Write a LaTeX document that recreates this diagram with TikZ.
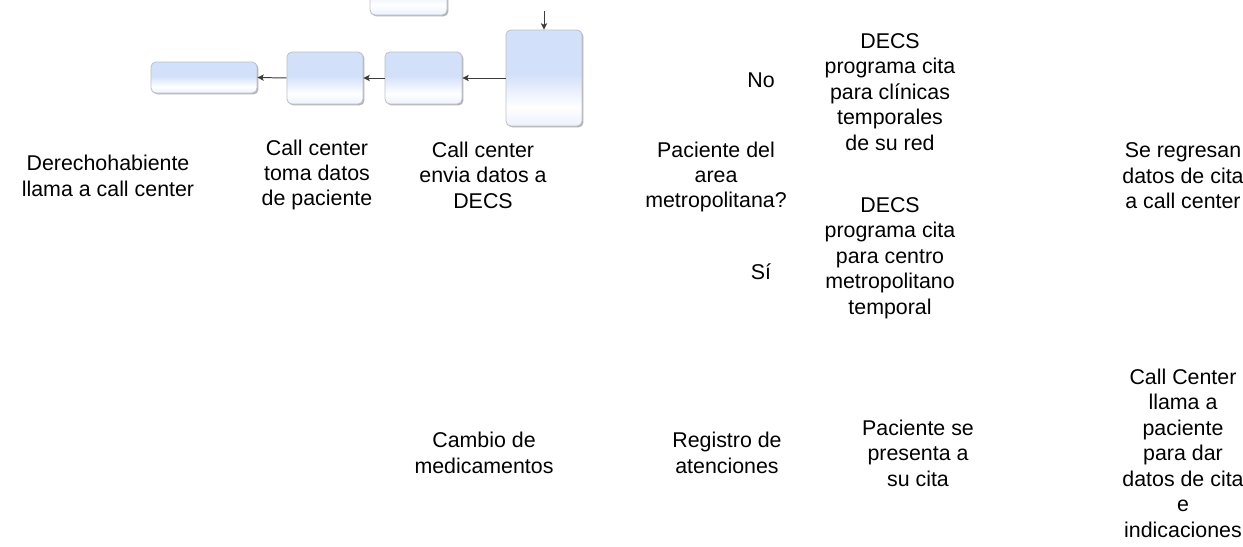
\documentclass[tikz,border=0pt]{standalone}
\usepackage{fontspec}
\setmainfont{Liberation Sans}
\usetikzlibrary{shadows, arrows.meta}
\definecolor{boxtop}{HTML}{D3E0FA}
\definecolor{boxline}{HTML}{BEC2CA}
\definecolor{arrowgray}{HTML}{3C3C3C}
\pgfdeclareverticalshading{boxshade}{100bp}{color(0bp)=(boxtop!45!white); color(25bp)=(boxtop!45!white); color(35bp)=(white); color(52bp)=(boxtop); color(100bp)=(boxtop)}

\begin{document}
\begin{tikzpicture}[x=0.025cm, y=-0.025cm, >={Stealth[length=4.5pt, width=4.5pt, inset=1pt]},
task/.style={rectangle, rounded corners=3.5pt, draw=boxline, line width=0.6pt, shading=boxshade,
  drop shadow={shadow xshift=1pt, shadow yshift=-1pt, fill=black, opacity=0.3}},
flow/.style={->, draw=arrowgray, line width=0.7pt}]
\tikzstyle{lbl}=[align=center, inner sep=0pt, font=\fontsize{15.2}{18.1}\selectfont]
\useasboundingbox (0,0) rectangle (1243,546);
\clip (0,0) rectangle (1243,546);

% boxes
\node [task, minimum width=2.65cm, minimum height=0.775cm] (llamada) at (204,77.5) {};
\node [task, minimum width=1.9cm, minimum height=1.3cm] (datos) at (325,78) {};
\node [task, minimum width=1.925cm, minimum height=1.3cm] (envio) at (423.5,78) {};
\node [task, minimum width=1.9cm, minimum height=2.4cm] (decs) at (544,78) {};
\node [task, minimum width=1.925cm, minimum height=1.3cm] (previo) at (408.5,-11) {};
\coordinate (entrada) at (544,11);

\draw[flow] (entrada) -- (decs.north);
\draw[flow] (decs.west) -- (envio.east);
\draw[flow] (envio.west) -- (datos.east);
\draw[flow] (datos.west) -- (llamada.east);

% labels
\node[lbl] (t1) at (108,176) {Derechohabiente\\llama a call center};
\node[lbl] (t2) at (317,175) {Call center\\toma datos\\de paciente};
\node[lbl] (t3) at (483,175) {Call center\\envia datos a\\DECS};
\node[lbl] (t4) at (716,177) {Paciente del\\area\\metropolitana?};
\node[lbl] (no) at (761,80) {No};
\node[lbl] (si) at (761,272) {Sí};
\node[lbl] (t5) at (890,92) {DECS\\programa cita\\para clínicas\\temporales\\de su red};
\node[lbl] (t6) at (890,258) {DECS\\programa cita\\para centro\\metropolitano\\temporal};
\node[lbl] (t7) at (1183,176) {Se regresan\\datos de cita\\a call center};
\node[lbl] (t8) at (484,453) {Cambio de\\medicamentos};
\node[lbl] (t9) at (727,453) {Registro de\\atenciones};
\node[lbl] (t10) at (918,453) {Paciente se\\presenta a\\su cita};
\node[lbl] (t11) at (1183,453) {Call Center\\llama a\\paciente\\para dar\\datos de cita\\e\\indicaciones};
\end{tikzpicture}
\end{document}
